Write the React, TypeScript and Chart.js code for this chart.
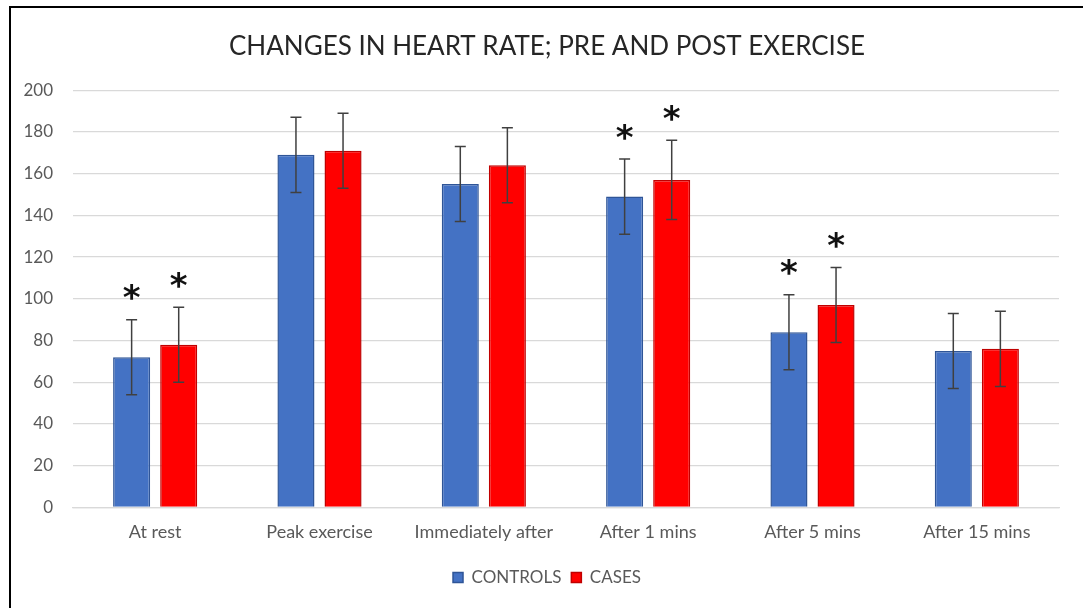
import React, { useEffect, useRef } from "react";
import { Chart, registerables } from "chart.js";

Chart.register(...registerables);

const categories = ["At rest", "Peak exercise", "Immediately after", "After 1 mins", "After 5 mins", "After 15 mins"];
const controls = [72, 169, 155, 149, 84, 75];
const cases = [78, 171, 164, 157, 97, 76];
const controlsErr = [18, 18, 18, 18, 18, 18];
const casesErr = [18, 18, 18, 19, 18, 18];
const controlsSig = [true, false, false, true, true, false];
const casesSig = [true, false, false, true, true, false];
const yTicks = [0, 20, 40, 60, 80, 100, 120, 140, 160, 180, 200];

const FONT = "Lato";

const errorPlugin = {
  id: "errorBars",
  afterDatasetsDraw(chart: any) {
    const ctx = chart.ctx;
    const y = chart.scales.y;
    chart.data.datasets.forEach((ds: any, di: number) => {
      const meta = chart.getDatasetMeta(di);
      const errs: number[] = ds.errs;
      const sig: boolean[] = ds.sig;
      meta.data.forEach((bar: any, i: number) => {
        const v = ds.data[i];
        const top = y.getPixelForValue(v + errs[i]);
        const bot = y.getPixelForValue(v - errs[i]);
        const x = bar.x;
        ctx.save();
        ctx.strokeStyle = "#404040";
        ctx.lineWidth = 1.5;
        ctx.beginPath();
        ctx.moveTo(x, top);
        ctx.lineTo(x, bot);
        ctx.moveTo(x - 5.5, top);
        ctx.lineTo(x + 5.5, top);
        ctx.moveTo(x - 5.5, bot);
        ctx.lineTo(x + 5.5, bot);
        ctx.stroke();
        if (sig[i]) {
          ctx.fillStyle = "#111";
          ctx.font = "bold 34px 'DejaVu Sans'";
          ctx.textAlign = "center";
          ctx.textBaseline = "middle";
          ctx.fillText("*", x, top - 19);
        }
        ctx.restore();
      });
    });
  },
};

export default function App() {
  const ref = useRef<HTMLCanvasElement>(null);
  useEffect(() => {
    const chart = new Chart(ref.current!, {
      type: "bar",
      data: {
        labels: categories,
        datasets: [
          {
            label: "CONTROLS",
            data: controls,
            backgroundColor: "#4472C4",
            borderColor: "#2F5597",
            borderWidth: 1.5,
            errs: controlsErr,
            sig: controlsSig,
            categoryPercentage: 0.573,
            barPercentage: 0.787,
          } as any,
          {
            label: "CASES",
            data: cases,
            backgroundColor: "#FF0000",
            borderColor: "#C00000",
            borderWidth: 1.5,
            errs: casesErr,
            sig: casesSig,
            categoryPercentage: 0.573,
            barPercentage: 0.787,
          } as any,
        ],
      },
      options: {
        animation: false,
        responsive: false,
        layout: { padding: { left: 11, right: 0, top: 0, bottom: 12 } },
        plugins: {
          title: {
            display: true,
            text: "CHANGES IN HEART RATE; PRE AND POST EXERCISE",
            color: "#262626",
            font: { family: FONT, size: 26, weight: "normal" },
            padding: { top: 31, bottom: 28 },
          },
          legend: {
            position: "bottom",
            labels: {
              boxWidth: 10,
              boxHeight: 10,
              color: "#595959",
              font: { family: FONT, size: 17 },
              padding: 10,
            },
          },
          tooltip: { enabled: false },
        },
        scales: {
          x: {
            grid: { display: false },
            border: { color: "#d9d9d9", width: 1.3 },
            ticks: { color: "#595959", font: { family: FONT, size: 18 }, padding: 6 },
            afterFit(axis: any) {
              axis.height += 10;
            },
          },
          y: {
            min: 0,
            max: 200,
            afterBuildTicks(axis: any) {
              axis.ticks = yTicks.map((v) => ({ value: v }));
            },
            afterFit(axis: any) {
              axis.width = 62;
            },
            grid: { color: "#d9d9d9", lineWidth: 1.3, drawTicks: false },
            border: { display: false },
            ticks: { color: "#595959", font: { family: FONT, size: 17 }, padding: 20 },
          },
          spacer: {
            position: "right",
            display: true,
            grid: { display: false, drawTicks: false },
            border: { display: false },
            ticks: { display: false },
            afterFit(axis: any) {
              axis.width = 24;
            },
          },
        },
      } as any,
      plugins: [errorPlugin],
    });
    return () => chart.destroy();
  }, []);
  return (
    <div style={{ position: "fixed", left: 0, top: 0, width: 1083, height: 608, background: "#fff" }}>
      <canvas ref={ref} width={1083} height={608} style={{ position: "absolute", left: 0, top: 0 }} />
      <div
        style={{
          position: "absolute",
          left: 9,
          top: 6,
          right: 0,
          bottom: 0,
          borderTop: "2.5px solid #000",
          borderLeft: "2.5px solid #000",
          pointerEvents: "none",
        }}
      />
    </div>
  );
}
